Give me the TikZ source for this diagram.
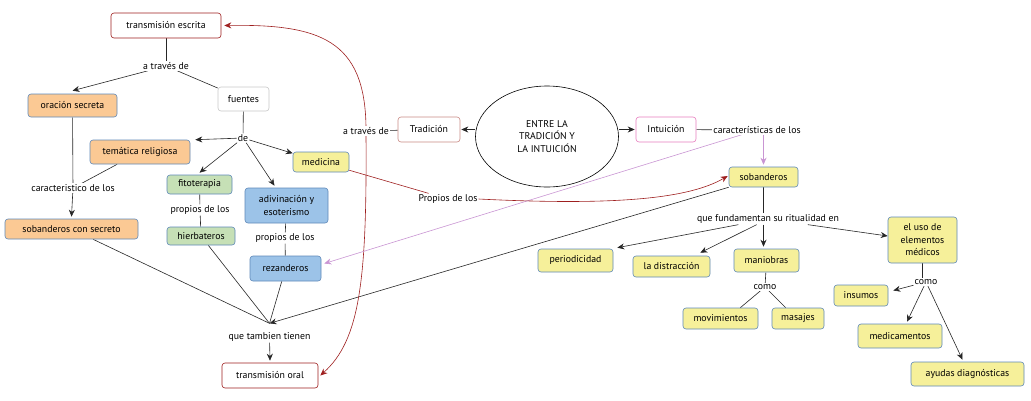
\documentclass[tikz,border=0pt]{standalone}
\usepackage{fontspec}
\setmainfont{PT Sans}
\usetikzlibrary{arrows.meta,shapes.geometric,backgrounds}
\definecolor{orng}{HTML}{FBC994}
\definecolor{ylw}{HTML}{F6F09A}
\definecolor{grn}{HTML}{C6E0B6}
\definecolor{blu}{HTML}{9CC3E8}
\definecolor{bbord}{HTML}{5E88B8}
\definecolor{dred}{HTML}{9E1F1F}
\definecolor{tradc}{HTML}{C98A84}
\definecolor{intc}{HTML}{E77DBE}
\definecolor{purp}{HTML}{C995D3}
\definecolor{lgray}{HTML}{C8C8C8}
\begin{document}
\begin{tikzpicture}[x=1pt,y=-1pt,
  font=\fontsize{9.8}{12.5}\selectfont,
  box/.style={draw=bbord, rounded corners=3pt, line width=0.6pt, align=center, inner sep=0pt},
  whbox/.style={box, fill=white},
  orbox/.style={box, fill=orng},
  ybox/.style={box, fill=ylw},
  gbox/.style={box, fill=grn},
  bbox/.style={box, fill=blu},
  lbl/.style={fill=white, inner sep=1pt},
  ln/.style={draw=black!85, line width=0.6pt},
  arr/.style={ln, -{Stealth[length=7pt,width=6pt]}},
  rln/.style={draw=dred, line width=0.6pt},
  rarr/.style={rln, -{Stealth[length=7pt,width=6pt]}},
  parr/.style={draw=purp, line width=0.6pt, -{Stealth[length=7pt,width=6pt]}}
]
\useasboundingbox (0,0) rectangle (1031,400);

% left part
\node[whbox, draw=dred, minimum width=110, minimum height=25] (te) at (166,25.5) {transmisión escrita};
\node[lbl] (atd1) at (166,66) {a través de};
\node[orbox, minimum width=89, minimum height=23] (os) at (72.5,105.5) {oración secreta};
\node[whbox, draw=lgray, minimum width=51, minimum height=24] (fu) at (243.5,99) {fuentes};
\node[lbl] (de) at (243,138) {de};
\node[orbox, minimum width=100, minimum height=24] (tr) at (140,152) {temática religiosa};
\node[ybox, minimum width=56, minimum height=20] (med) at (321,162) {medicina};
\node[gbox, minimum width=65, minimum height=19] (fit) at (199.5,184.5) {fitoterapia};
\node[lbl] (cdl1) at (73,188) {caracteristico de los};
\node[bbox, minimum width=83, minimum height=35] (adv) at (286.5,205.5) {adivinación y\\esoterismo};
\node[orbox, minimum width=133, minimum height=20] (sc) at (71.5,229) {sobanderos con secreto};
\node[lbl] (pdl1) at (200,210) {propios de los};
\node[gbox, minimum width=68, minimum height=18] (hb) at (201,236) {hierbateros};
\node[lbl] (pdl2) at (285,238) {propios de los};
\node[bbox, minimum width=71, minimum height=25] (rez) at (285.5,268.5) {rezanderos};
\node[lbl] (qtt) at (269.5,337) {que tambien tienen};
\node[whbox, draw=dred, minimum width=96, minimum height=25] (tor) at (270,375.5) {transmisión oral};

% center
\node[draw, ellipse, fill=white, line width=0.6pt, minimum width=143, minimum height=101, align=center, inner sep=0pt] (ell) at (547,136.5) {ENTRE LA\\TRADICIÓN Y\\LA INTUICIÓN};
\node[whbox, draw=tradc, minimum width=62, minimum height=25] (trad) at (429,129.5) {Tradición};
\node[whbox, draw=intc, minimum width=60, minimum height=25] (intu) at (666,129.5) {Intuición};
\node[lbl] (atd2) at (366,131) {a través de};
\node[lbl] (cdl2) at (757,130) {características de los};
\node[lbl] (ppl) at (448,199) {Propios de los};

% right part
\node[ybox, minimum width=69, minimum height=20] (sob) at (763.5,177) {sobanderos};
\node[lbl] (qfr) at (768,219) {que fundamentan su ritualidad en};
\node[ybox, minimum width=75, minimum height=23] (per) at (575.5,260.5) {periodicidad};
\node[ybox, minimum width=77, minimum height=21] (dis) at (671.5,266.5) {la distracción};
\node[ybox, minimum width=65, minimum height=23] (man) at (766.5,260.5) {maniobras};
\node[lbl] (como1) at (765,287) {como};
\node[ybox, minimum width=75, minimum height=21] (mov) at (720.5,318.5) {movimientos};
\node[ybox, minimum width=52, minimum height=21] (mas) at (798,318.5) {masajes};
\node[ybox, minimum width=69, minimum height=46] (uso) at (922.5,240) {el uso de\\elementos\\médicos};
\node[lbl] (como2) at (926,282) {como};
\node[ybox, minimum width=54, minimum height=21] (ins) at (861,295.5) {insumos};
\node[ybox, minimum width=84, minimum height=24] (medi) at (900,336) {medicamentos};
\node[ybox, minimum width=113, minimum height=24] (ayu) at (967.5,374) {ayudas diagnósticas};

\begin{scope}[on background layer]
  % left
  \draw[ln] (te) -- (atd1);
  \draw[arr] (atd1) -- ([yshift=3pt]os.north);
  \draw[ln] (atd1) -- (fu);
  \draw[ln] (fu) -- (de);
  \draw[arr] (de) -- ([xshift=5pt]tr.north east);
  \draw[arr] (de) -- (med);
  \draw[arr] (de) -- ([yshift=2pt]fit.north);
  \draw[arr] (de) -- ([xshift=-12pt,yshift=2pt]adv.north);
  \draw[ln] (os) -- (cdl1);
  \draw[ln] (tr) -- (cdl1);
  \draw[arr] (cdl1) -- ([yshift=2pt]sc.north);
  \draw[ln] (fit) -- (pdl1) -- (hb);
  \draw[ln] (adv) -- (pdl2) -- (rez);
  \coordinate (conv) at ([yshift=8pt]qtt.north);
  \draw[ln] (sc) -- (conv);
  \draw[ln] (hb) -- (conv);
  \draw[ln] (rez) -- (conv);
  \draw[arr] (sob) -- (conv);
  \draw[arr] (qtt) -- ([yshift=2pt]tor.north);
  % red curves
  \draw[rarr] ([yshift=-1pt]atd2.north) .. controls (365,40) and (320,24) .. ([xshift=3pt]te.east);
  \draw[rarr] ([yshift=1pt]atd2.south) .. controls (367,280) and (360,340) .. ([xshift=2pt]tor.east);
  % center
  \draw[ln] (trad) -- (atd2);
  \draw[arr] (ell.west |- trad.east) -- ([xshift=1pt]trad.east);
  \draw[arr] (ell.east |- intu.west) -- ([xshift=-1pt]intu.west);
  \draw[ln] (intu) -- (cdl2);
  \draw[parr] (cdl2.south -| sob.north) -- ([yshift=2pt]sob.north);
  \draw[parr] (cdl2) -- ([xshift=3pt,yshift=5pt]rez.east);
  \draw[rln] (med) -- (ppl);
  \draw[rarr] (ppl.east) .. controls (620,206) and (690,198) .. ([xshift=-1pt,yshift=1pt]sob.west);
  % right
  \draw[ln] (sob) -- (sob |- qfr.north);
  \draw[arr] (qfr) -- ([xshift=4pt,yshift=1pt]per.north east);
  \draw[arr] (qfr) -- ([xshift=-10pt,yshift=3pt]dis.north east);
  \draw[arr] (sob |- qfr.south) -- ([yshift=2pt]sob |- man.north);
  \draw[arr] (qfr) -- ([yshift=4pt]uso.west);
  \draw[ln] (man) -- (como1);
  \draw[ln] (como1) -- ([xshift=-18pt]mov.north east);
  \draw[ln] (como1) -- ([xshift=14pt]mas.north west);
  \draw[ln] (uso) -- (uso |- como2.north);
  \draw[arr] (como2) -- ([xshift=5pt,yshift=5pt]ins.east);
  \draw[arr] (como2) -- ([xshift=7pt,yshift=2pt]medi.north);
  \draw[arr] (como2) -- ([xshift=-5pt,yshift=2pt]ayu.north);
\end{scope}
\end{tikzpicture}
\end{document}
